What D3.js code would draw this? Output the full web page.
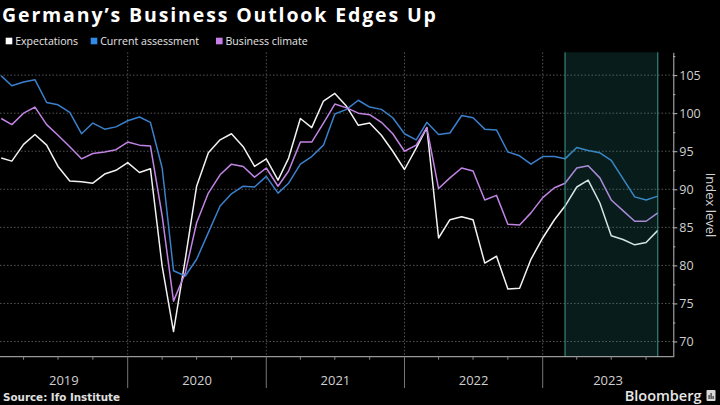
<!DOCTYPE html>
<html><head><meta charset="utf-8">
<script src="https://cdn.jsdelivr.net/npm/d3@7"></script>
<style>html,body{margin:0;padding:0;background:#000;} svg{display:block}</style>
</head><body><svg id="c" width="720" height="405"></svg>
<script>
// ---- Data (monthly, Jan 2019 – Oct 2023) ----
const firstMonth = "2019-01";
const monthCount = 58;
const expectations = [
  94.1, 93.7, 95.9, 97.2, 95.8, 93.0, 91.1, 91.0, 90.8, 92.0, 92.5, 93.5,
  92.2, 92.7, 79.9, 71.3, 80.8, 90.4, 94.8, 96.5, 97.3, 95.6, 93.0, 94.0,
  91.2, 94.1, 99.3, 98.1, 101.6, 102.6, 100.9, 98.4, 98.7, 97.1, 95.0, 92.6,
  95.4, 98.1, 83.6, 86.0, 86.4, 86.0, 80.3, 81.2, 76.9, 77.0, 80.8, 83.6,
  86.0, 87.8, 90.3, 91.2, 88.2, 83.9, 83.4, 82.7, 83.0, 84.6
];
const currentAssessment = [
  104.9, 103.6, 104.1, 104.4, 101.4, 101.1, 100.1, 97.3, 98.7, 97.9, 98.2, 99.0,
  99.5, 98.8, 92.8, 79.3, 78.6, 80.8, 84.3, 87.8, 89.4, 90.4, 90.3, 91.7,
  89.5, 90.8, 93.3, 94.3, 95.8, 99.9, 100.5, 101.7, 100.8, 100.5, 99.4, 97.3,
  96.5, 98.8, 97.2, 97.4, 99.7, 99.4, 97.9, 97.8, 94.9, 94.4, 93.3, 94.3,
  94.3, 94.0, 95.5, 95.1, 94.8, 93.8, 91.4, 89.0, 88.6, 89.1
];
const businessClimate = [
  99.3, 98.5, 100.0, 100.8, 98.5, 97.1, 95.6, 94.0, 94.7, 94.9, 95.2, 96.2,
  95.8, 95.7, 86.5, 75.3, 79.0, 85.6, 89.5, 91.9, 93.3, 93.0, 91.6, 92.8,
  90.4, 92.4, 96.2, 96.2, 98.7, 101.2, 100.7, 100.0, 99.8, 98.8, 97.3, 95.0,
  95.8, 98.1, 90.1, 91.5, 92.8, 92.4, 88.6, 89.2, 85.4, 85.3, 86.9, 88.9,
  90.2, 90.8, 92.8, 93.1, 91.5, 88.6, 87.2, 85.8, 85.8, 86.9
];
const seriesNames = ["Expectations", "Current assessment", "Business climate"];
const yTicks = [70, 75, 80, 85, 90, 95, 100, 105];
const yMinorTicks = [72.5, 77.5, 82.5, 87.5, 92.5, 97.5, 102.5, 107.5];
const yearLabels = ["2019", "2020", "2021", "2022", "2023"];
const highlightRange = ["2023-03-01", "2023-11-01"];

// ---- Styles ----
const colors = ["#f2f2f2", "#3a80cc", "#c284e4"];
const W = 720, H = 405;
const plot = {left: 0, right: 673.3, top: 52.3, bottom: 356.7};
const svg = d3.select("#c");
svg.append("rect").attr("width", W).attr("height", H).attr("fill", "#000");

const parse = d3.utcParse("%Y-%m-%d");
const start = d3.utcParse("%Y-%m")(firstMonth);
// each monthly value is plotted at the end of its month
const dates = d3.range(monthCount).map(i => d3.utcMonth.offset(start, i + 1));

const x = d3.scaleUtc()
  .domain([parse("2020-01-01"), parse("2023-01-01")])
  .range([127.7, 542.7]);
const y = d3.scaleLinear().domain([68, 108]).range([plot.bottom, plot.top]);

svg.append("clipPath").attr("id", "clip").append("rect")
  .attr("x", plot.left).attr("y", plot.top)
  .attr("width", plot.right - plot.left).attr("height", plot.bottom - plot.top);

// horizontal gridlines
svg.append("g").selectAll("line").data(yTicks).join("line")
  .attr("x1", plot.left).attr("x2", plot.right)
  .attr("y1", d => y(d)).attr("y2", d => y(d))
  .attr("stroke", "#555").attr("stroke-width", 1).attr("stroke-dasharray", "1.5,2");

// year boundaries
const yearStarts = yearLabels.map(s => parse(s + "-01-01"));
const yearBounds = yearStarts.slice(1);
svg.append("g").selectAll("line").data(yearBounds).join("line")
  .attr("x1", d => x(d)).attr("x2", d => x(d))
  .attr("y1", plot.top).attr("y2", plot.bottom)
  .attr("stroke", "#555").attr("stroke-width", 1).attr("stroke-dasharray", "1.5,2");

// lines
const series = [expectations, currentAssessment, businessClimate];
const line = d3.line().x((d, i) => x(dates[i])).y(d => y(d));
const gl = svg.append("g").attr("clip-path", "url(#clip)");
series.forEach((s, k) => {
  gl.append("path").datum(s).attr("d", line)
    .attr("fill", "none").attr("stroke", colors[k]).attr("stroke-width", 1.5)
    .attr("stroke-linejoin", "round");
});

// highlight band (semi-transparent overlay)
const hx0 = x(parse(highlightRange[0])), hx1 = x(parse(highlightRange[1]));
svg.append("rect").attr("x", hx0).attr("y", plot.top)
  .attr("width", hx1 - hx0).attr("height", plot.bottom - plot.top)
  .attr("fill", "rgb(50,170,160)").attr("fill-opacity", 0.17);
[hx0, hx1].forEach(v => svg.append("line")
  .attr("x1", v).attr("x2", v).attr("y1", plot.top).attr("y2", plot.bottom)
  .attr("stroke", "#3f9c90").attr("stroke-width", 1));

// right axis
const axisColor = "#bdbdbd";
const yAxis = svg.append("g").attr("transform", `translate(${plot.right},0)`)
  .call(d3.axisRight(y).tickValues(yTicks).tickSize(4).tickPadding(2).tickSizeOuter(0));
yAxis.select(".domain").attr("stroke", axisColor);
yAxis.selectAll(".tick line").attr("stroke", axisColor);
yAxis.selectAll(".tick text").attr("fill", "#d0d0d0")
  .style("font-family", "'Open Sans', sans-serif").style("font-size", "12.5px");
const yMinor = svg.append("g").attr("transform", `translate(${plot.right},0)`)
  .call(d3.axisRight(y).tickValues(yMinorTicks).tickSize(2).tickFormat("").tickSizeOuter(0));
yMinor.select(".domain").remove();
yMinor.selectAll(".tick line").attr("stroke", axisColor);

svg.append("text")
  .attr("transform", `translate(706,205) rotate(90)`)
  .attr("text-anchor", "middle")
  .attr("fill", "#d0d0d0")
  .style("font-family", "'Open Sans', sans-serif").style("font-size", "13px")
  .text("Index level");

// bottom axis
svg.append("line").attr("x1", plot.left).attr("x2", plot.right)
  .attr("y1", plot.bottom).attr("y2", plot.bottom).attr("stroke", axisColor);
const quarterTicks = d3.utcMonth.every(3).range(parse("2019-01-01"), parse("2024-01-01"))
  .filter(d => d.getUTCMonth() !== 0 && x(d) > plot.left && x(d) < plot.right);
svg.append("g").selectAll("line").data(quarterTicks).join("line")
  .attr("x1", d => x(d)).attr("x2", d => x(d))
  .attr("y1", plot.bottom).attr("y2", plot.bottom + 3)
  .attr("stroke", "#888");
svg.append("g").selectAll("line").data(yearBounds).join("line")
  .attr("x1", d => x(d)).attr("x2", d => x(d))
  .attr("y1", plot.bottom).attr("y2", 388)
  .attr("stroke", "#777");
svg.append("g").selectAll("text").data(yearLabels).join("text")
  .attr("x", (d, i) => {
    const a = Math.max(plot.left, x(yearStarts[i]));
    const b = Math.min(plot.right, x(d3.utcYear.offset(yearStarts[i], 1)));
    return (a + b) / 2;
  })
  .attr("y", 385).attr("text-anchor", "middle").attr("fill", "#d0d0d0")
  .style("font-family", "'Open Sans', sans-serif").style("font-size", "13px")
  .text(d => d);

// title
const titleText = "Germany’s Business Outlook Edges Up";
const title = svg.append("text").attr("x", 2).attr("y", 22).attr("fill", "#fff")
  .style("font-family", "'Open Sans', sans-serif").style("font-weight", 700)
  .style("font-size", "19.5px").text(titleText);
const tl = title.node().getComputedTextLength();
const ls = Math.max(0, (434 - tl) / (titleText.length - 1));
title.style("letter-spacing", ls.toFixed(2) + "px");

// legend
const legendX = [5.7, 90.7, 216];
const lg = svg.append("g");
seriesNames.forEach((n, k) => {
  lg.append("rect").attr("x", legendX[k]).attr("y", 37.7).attr("width", 6.6).attr("height", 6.6)
    .attr("fill", k === 1 ? "#2f8ae8" : k === 2 ? "#c77fe8" : "#ffffff");
  lg.append("text").attr("x", legendX[k] + 9.5).attr("y", 44.6).attr("fill", "#e6e6e6")
    .style("font-family", "'Open Sans', sans-serif").style("font-size", "10.6px").text(n);
});

// source + logo
svg.append("text").attr("x", 3).attr("y", 400.5).attr("fill", "#e0e0e0")
  .style("font-family", "'DejaVu Sans', sans-serif").style("font-weight", 700)
  .style("font-size", "11px").attr("textLength", 117).attr("lengthAdjust", "spacingAndGlyphs")
  .text("Source: Ifo Institute");
svg.append("text").attr("x", 701.5).attr("y", 400.7).attr("text-anchor", "end").attr("fill", "#e6e6e6")
  .style("font-family", "'Open Sans', sans-serif").style("font-weight", 600)
  .style("font-size", "14.5px").text("Bloomberg");
const logo = svg.append("g").attr("transform", "translate(706.5,390)");
logo.append("rect").attr("width", 9).attr("height", 11).attr("rx", 1).attr("fill", "#d8d8d8");
[[2, 5, 1.2, 4], [4, 3, 1.2, 6], [6, 6, 1.2, 3]].forEach(b =>
  logo.append("rect").attr("x", b[0]).attr("y", b[1]).attr("width", b[2]).attr("height", b[3]).attr("fill", "#333"));
</script></body></html>
